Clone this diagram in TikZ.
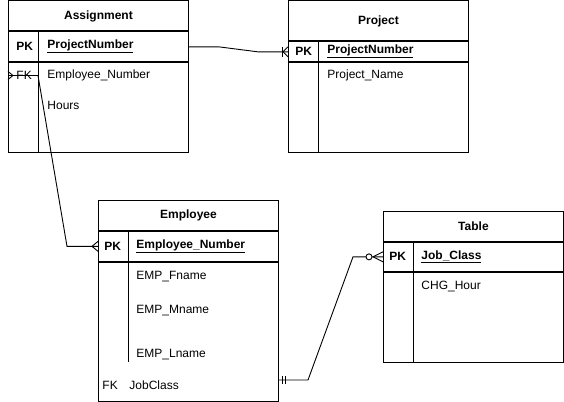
\documentclass[tikz,border=0pt]{standalone}
\usepackage{fontspec}
\setmainfont{Liberation Sans}
\usetikzlibrary{positioning}

\begin{document}
\begin{tikzpicture}[x=1pt, y=-1pt, line width=0.9pt,
    every node/.style={font=\fontsize{12}{14}\selectfont, inner sep=0pt},
    hdr/.style={draw, anchor=north west, minimum width=180pt,
                font=\fontsize{12}{14}\selectfont\bfseries},
    rowbox/.style={draw, anchor=north west, minimum width=180pt},
    attr/.style={anchor=west, yshift=-1.5pt},
    pk/.style={anchor=west, yshift=-1.5pt, font=\fontsize{12}{14}\selectfont\bfseries}
]
    \useasboundingbox (0,0) rectangle (564,401);

    % Assignment
    \node[hdr, minimum height=30pt] (asg) at (8,0.5) {Assignment};
    \node[rowbox, minimum height=30pt] (asgpk) at (asg.south west) {};
    \node[rowbox, minimum height=90pt] (asgbody) at (asgpk.south west) {};
    \draw ([xshift=30pt]asgpk.north west) -- ([xshift=30pt]asgbody.south west);
    \node[pk] (asgpkl) at (16,45) {PK};
    \node[pk] (asgpkn) at (47,45) {\underline{ProjectNumber}};
    \node[attr] (asgfk) at (16,74) {FK};
    \node[attr] (asgemp) at (47,74) {Employee\_Number};
    \node[attr] (asghrs) at (47,104) {Hours};

    % Project
    \node[hdr, minimum height=40pt] (prj) at (288,0.5) {Project};
    \node[rowbox, minimum height=20pt] (prjpk) at (prj.south west) {};
    \node[rowbox, minimum height=90pt] (prjbody) at (prjpk.south west) {};
    \draw ([xshift=30pt]prjpk.north west) -- ([xshift=30pt]prjbody.south west);
    \node[pk] (prjpkl) at (295,50) {PK};
    \node[pk] (prjpkn) at (327,50) {\underline{ProjectNumber}};
    \node[attr] (prjname) at (327,74) {Project\_Name};

    % Employee
    \node[hdr, minimum height=30pt] (emp) at (98,200) {Employee};
    \node[rowbox, minimum height=30pt] (emppk) at (emp.south west) {};
    \node[rowbox, minimum height=139.5pt] (empbody) at (emppk.south west) {};
    \draw ([xshift=30pt]emppk.north west) -- ([xshift=30pt,yshift=-100pt]empbody.north west);
    \node[pk] (emppkl) at (104,245) {PK};
    \node[pk] (emppkn) at (136,245) {\underline{Employee\_Number}};
    \node[attr] (empfn) at (136,275) {EMP\_Fname};
    \node[attr] (empmn) at (136,309) {EMP\_Mname};
    \node[attr] (empln) at (136,353) {EMP\_Lname};
    \node[attr] (empfk) at (102,384) {FK};
    \node[attr] (empjc) at (129,384) {JobClass};

    % Table
    \node[hdr, minimum height=30pt] (tbl) at (383,211) {Table};
    \node[rowbox, minimum height=29pt] (tblpk) at (tbl.south west) {};
    \node[rowbox, minimum height=90pt] (tblbody) at (tblpk.south west) {};
    \draw ([xshift=30pt]tblpk.north west) -- ([xshift=30pt]tblbody.south west);
    \node[pk] (tblpkl) at (389,255) {PK};
    \node[pk] (tblpkn) at (421,255) {\underline{Job\_Class}};
    \node[attr] (tblchg) at (421,285) {CHG\_Hour};

    % Assignment -- Project (one or many)
    \draw (asgpk.east) -- ++(30,0) -- ([xshift=-30pt]prjpk.west) -- (prjpk.west);
    \draw ([xshift=-6pt]prjpk.west) ++(0,-5) -- ++(0,10);
    \draw ([xshift=-5pt]prjpk.west) -- ++(5,-5) ([xshift=-5pt]prjpk.west) -- ++(5,5);

    % Assignment -- Employee (many)
    \coordinate (asgfkend) at (asgbody.west |- asgfk);
    \draw (asgfkend) -- ([xshift=30pt]asgfkend) -- ([xshift=-31pt]emppk.west) -- (emppk.west);
    \draw ([xshift=5pt]asgfkend) -- ++(-5,-4) ([xshift=5pt]asgfkend) -- ++(-5,4);
    \draw ([xshift=-6pt]emppk.west) -- ++(6,-5) ([xshift=-6pt]emppk.west) -- ++(6,5);

    % Employee -- Table (one and only one / zero or many)
    \coordinate (empjcend) at (278,380);
    \draw (empjcend) -- ++(30,0) -- ([xshift=-30pt]tblpk.west) -- (tblpk.west);
    \draw ([xshift=4pt]empjcend) ++(0,-4) -- ++(0,8);
    \draw ([xshift=7pt]empjcend) ++(0,-4) -- ++(0,8);
    \draw[fill=white] ([xshift=-14pt]tblpk.west) circle (3pt);
    \draw ([xshift=-10pt]tblpk.west) -- ++(10,-5) ([xshift=-10pt]tblpk.west) -- ++(10,5);
\end{tikzpicture}
\end{document}
